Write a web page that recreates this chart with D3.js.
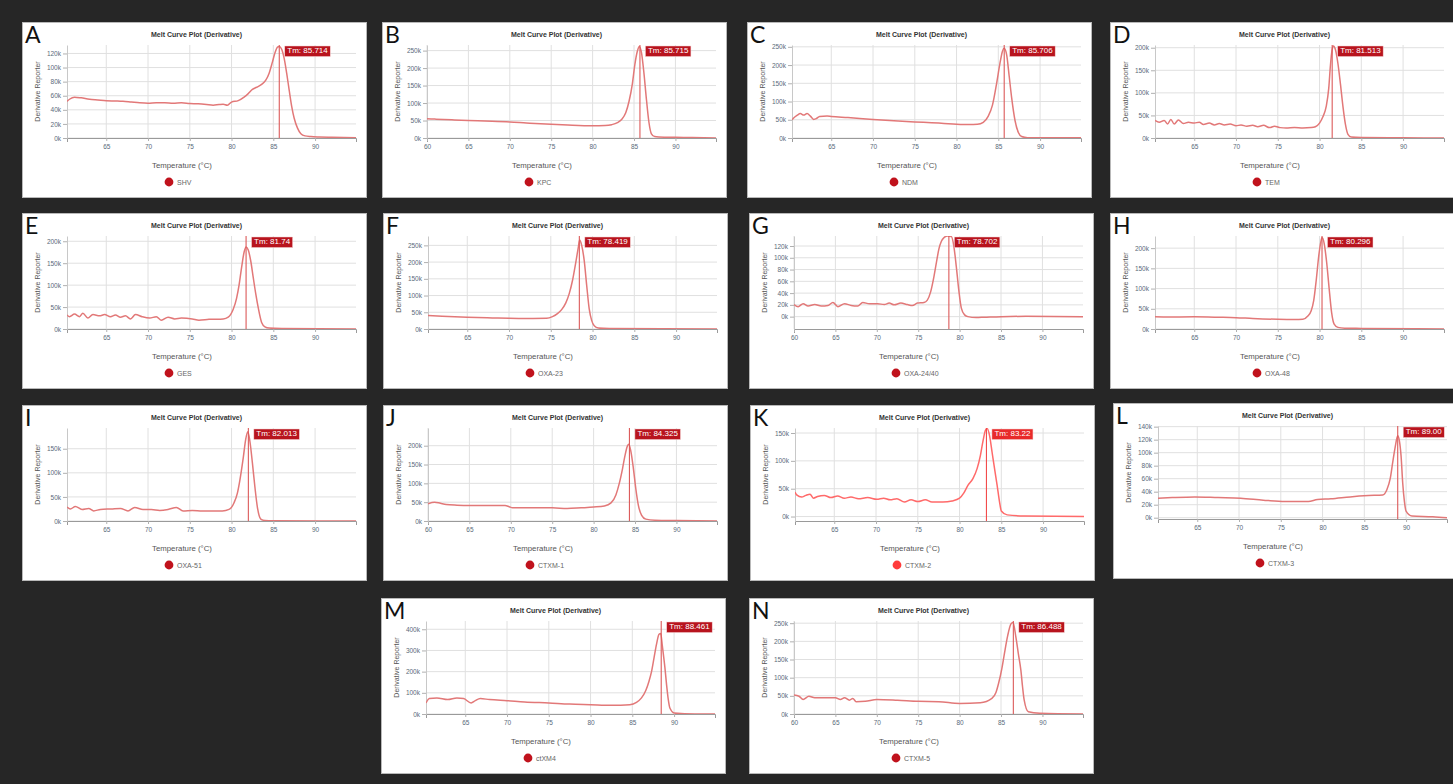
<!DOCTYPE html>
<html><head><meta charset="utf-8">
<script src="https://cdn.jsdelivr.net/npm/d3@7"></script>
<style>
html,body{margin:0;padding:0;background:#262626;overflow:hidden}
svg{display:block}
</style></head><body>
<svg id="c" width="1453" height="784"></svg>
<script>
// ---------------- data ----------------
const letters = ["A","B","C","D","E","F","G","H","I","J","K","L","M","N"];
const targets = ["SHV","KPC","NDM","TEM","GES","OXA-23","OXA-24/40","OXA-48","OXA-51","CTXM-1","CTXM-2","CTXM-3","ctXM4","CTXM-5"];
const tmValues = [85.714,85.715,85.706,81.513,81.74,78.419,78.702,80.296,82.013,84.325,83.22,89.00,88.461,86.488];
const tmTexts = ["Tm: 85.714","Tm: 85.715","Tm: 85.706","Tm: 81.513","Tm: 81.74","Tm: 78.419","Tm: 78.702","Tm: 80.296","Tm: 82.013","Tm: 84.325","Tm: 83.22","Tm: 89.00","Tm: 88.461","Tm: 86.488"];
// y axis domain (k units) and tick step
const yMins = [0,0,0,0,0,0,-21,0,0,0,-8,-2,0,0];
const yMaxs = [132,266,255,206,212,278,137,230,193,247,159,141,439,256];
const yStepsK = [20,50,50,50,50,50,20,50,50,50,50,20,100,50];
// start of temperature axis (°C)
const xStarts = [60.3,60,60.3,60.3,60.3,60.3,60,60.3,60.3,60,60.3,60.3,60.3,60];
const xEnd = 94.9;
const xTickValues = [60,65,70,75,80,85,90];

// derivative reporter curves: [temperature °C, value in k]
const curveA = [[60.3,52],[60.6,55],[61.2,58],[62,57],[63,55],[64,54],[65,53],[66,52.5],[67,52],[68,51],[69,50],[70,49.5],[71,50],[72,50],[73,49.5],[74,50],[75,49],[76,48.5],[77,47.5],[77.8,46.5],[78.5,47.5],[79,48],[79.5,46.5],[80,51],[80.8,53],[81.5,58],[82,63],[82.5,69],[83,72],[83.6,76],[84.1,82],[84.5,92],[84.9,108],[85.2,121],[85.5,129],[85.7,130],[86,126],[86.3,113],[86.6,92],[86.9,68],[87.2,45],[87.5,28],[87.9,14],[88.3,6],[88.8,3],[89.5,2],[90.5,1.4],[92,1],[94.9,0.5]];
const curveB = [[60,55],[61,54],[62,53],[63,52],[65,50],[67,48.5],[70,46],[72,43],[75,39],[77,37],[80,35],[81.5,35.5],[82.3,38],[83,44],[83.5,53],[84,72],[84.4,105],[84.8,155],[85.1,210],[85.4,248],[85.65,262],[85.9,244],[86.2,185],[86.5,110],[86.8,45],[87.1,12],[87.5,4],[88,3],[90,2],[92,1.5],[94.9,0]];
const curveC = [[60.3,50],[60.5,55],[60.9,62],[61.3,67],[61.7,63],[62.1,67],[62.5,60],[62.9,51],[63.2,53],[63.6,59],[64.5,60],[65,59],[67,56],[70,51],[72,48],[75,44],[77,42],[78.5,40],[80,38],[81.5,37],[82.5,37.5],[83.2,43],[83.8,60],[84.3,90],[84.8,150],[85.2,205],[85.5,238],[85.7,246],[86,228],[86.3,170],[86.6,110],[87,48],[87.4,15],[87.8,4],[88.5,1],[90,1],[94.9,0.5]];
const curveD = [[60.3,39],[60.8,35],[61.4,39],[61.8,31],[62.2,41],[62.6,31],[63.1,40],[63.7,32],[64.3,35],[65,33],[65.6,35],[66.1,30],[66.8,33],[67.4,29],[68,32],[68.6,29],[69.3,31],[70,27],[70.6,29],[71.3,26],[72,28],[72.6,25],[73.3,28],[74,23],[74.6,26],[75.3,23],[76,22],[77,23],[78,22],[79,23],[79.5,25],[80,33],[80.4,47],[80.8,70],[81.1,110],[81.3,160],[81.5,195],[81.65,204],[81.9,196],[82.2,165],[82.5,120],[82.8,70],[83.1,30],[83.4,8],[83.8,2],[85,1],[90,0.5],[94.9,0]];
const curveE = [[60.3,32],[60.6,28],[61.2,34],[61.8,28],[62.2,36],[62.8,25],[63.4,33],[64.2,30],[64.8,33],[65.5,28],[66.1,32],[66.7,27],[67.3,30],[67.9,23],[68.5,33],[69.3,28],[70.2,25],[71,28],[71.6,20],[72.4,27],[73.2,23],[74,25],[75.3,23],[76.1,20],[77.3,22],[79,23],[79.6,27],[80.2,45],[80.6,70],[80.9,100],[81.2,140],[81.5,175],[81.75,187],[82,180],[82.3,155],[82.6,117],[82.9,80],[83.2,48],[83.6,15],[84,5],[84.5,2],[86,1],[94.9,0]];
const curveF = [[60.3,40],[62,38],[65,35],[68,33],[70,32],[72,31.5],[74.5,32],[75.2,37],[75.8,46],[76.3,58],[76.8,78],[77.2,105],[77.6,145],[78,200],[78.3,245],[78.45,266],[78.7,250],[79,205],[79.3,130],[79.6,60],[79.9,25],[80.2,10],[80.7,3],[82,1.5],[94.9,0]];
const curveG = [[60,20.5],[60.5,17],[61.1,22],[61.7,18],[62.5,20.5],[63.3,18],[64.1,19],[64.7,24],[65.3,17],[66.1,22],[66.9,19],[67.7,18],[68.3,24],[69.1,22],[70.1,22],[70.9,20.5],[71.5,23],[72.1,20],[72.9,23],[73.7,20.5],[74.3,19],[74.9,23],[75.7,24],[76.1,28],[76.5,42],[76.9,68],[77.2,92],[77.5,115],[77.8,128],[78.1,134],[78.5,137],[79,136],[79.3,120],[79.6,85],[79.9,45],[80.2,15],[80.6,3],[81,0],[82,-1.5],[83,-1],[85,0],[88,0.5],[94.9,0]];
const curveH = [[60.3,30],[62,29.5],[65,30],[68,29],[70,28],[72,26],[75,24],[77,23.5],[78,24],[78.6,32],[79,45],[79.3,70],[79.6,120],[79.9,180],[80.15,215],[80.3,226],[80.55,212],[80.85,165],[81.15,100],[81.45,40],[81.75,12],[82.2,4],[83,2],[85,1.5],[94.9,0]];
const curveI = [[60.3,29],[60.7,25],[61.3,30],[62.1,24],[62.9,26],[63.5,21],[64.3,24],[65.6,25],[66.7,26],[67.6,21],[68.4,28],[69.4,24],[70.4,24],[71.4,22],[72.4,24],[73.4,28],[74.2,21],[75.3,22],[76.5,21],[77.7,21],[78.9,21],[79.7,24],[80.3,38],[80.7,58],[81,85],[81.4,131],[81.7,170],[81.95,185],[82.2,165],[82.5,120],[82.8,70],[83.1,28],[83.5,4],[84,1],[85,0.5],[94.9,0]];
const curveJ = [[60,46],[60.8,50],[61.5,47],[62.2,44],[63.5,42],[65,41],[67.5,41],[69.3,41],[69.8,38],[70.2,35],[72.4,35],[75,35],[76.8,33],[78.5,35],[80,37],[81.3,40],[82.1,48],[82.7,70],[83.1,100],[83.5,140],[83.8,175],[84.1,200],[84.25,204],[84.5,185],[84.8,140],[85.1,85],[85.4,42],[85.8,15],[86.3,5],[87.4,2],[90,1],[94.9,0]];
const curveK = [[60.3,44],[60.5,39],[61.1,35],[61.6,38],[62.1,40],[62.5,33],[63,36],[63.8,38],[64.6,34],[65.4,37],[66.2,33],[67,35],[67.9,32],[69,34],[70.1,31],[70.9,33],[71.7,30],[72.5,32],[73.4,26],[74.2,30],[75,27],[75.9,30],[76.7,26],[78,26],[79.1,28],[80,33],[80.5,42],[81,56],[81.6,68],[82.1,86],[82.5,110],[82.8,135],[83.1,155],[83.3,158],[83.6,145],[83.9,115],[84.2,85],[84.5,56],[84.8,25],[85,10],[85.7,3],[87.8,1],[94.9,0]];
const curveL = [[60.3,30],[62,31],[64.7,32],[67.5,31],[70.2,30],[72.9,27],[75.5,25],[78.3,25],[79.4,28],[81,29],[83.3,32],[85.5,34],[87.2,35],[87.7,43],[88.1,60],[88.4,85],[88.7,109],[89,126],[89.2,118],[89.4,95],[89.6,53],[89.8,25],[90,10],[90.7,2.5],[93.2,1.5],[94.9,0]];
const curveM = [[60.3,52],[60.7,73],[61.6,76],[62.9,68],[64,76],[64.8,73],[65.7,52],[66.2,63],[66.8,73],[67.9,68],[70,63],[72.1,57],[75,52],[77.5,47],[80,44],[82.5,41],[84.7,44],[85.5,55],[86.1,76],[86.6,110],[87,155],[87.3,200],[87.6,265],[87.9,330],[88.2,376],[88.4,380],[88.6,320],[88.9,220],[89.1,139],[89.3,70],[89.5,28],[90,5],[92.5,0],[94.9,0]];
const curveN = [[60,52],[60.6,49],[61.1,40],[61.8,49],[62.5,45],[63.9,45],[65,45],[65.6,40],[66.1,45],[66.7,38],[67.1,43],[67.5,34],[68.6,35],[70,40],[72.5,38],[75,35],[77.5,34],[80,29],[82.5,31],[83.9,43],[84.4,60],[84.7,84],[85.1,125],[85.4,165],[85.8,215],[86.2,248],[86.45,252],[86.8,211],[87.1,165],[87.4,120],[87.6,75],[87.8,38],[88.3,6],[89.7,2],[94.9,0]];
const curves = [curveA,curveB,curveC,curveD,curveE,curveF,curveG,curveH,curveI,curveJ,curveK,curveL,curveM,curveN];

// ---------------- layout ----------------
const layout = [[22,22],[382,22],[747,22],[1110,22],[22,213],[383,213],[749,213],[1110,213],[22,405],[383,405],[750,405],[1113,403],[381,598],[749,598]];
const W = 345, H = 176;
const PL = 45, PR = 334, PT = 23, PB = 116;
const FONT = "'Liberation Sans', Arial, sans-serif";

const svg = d3.select("#c");
svg.append("rect").attr("width",1453).attr("height",784).attr("fill","#262626");

letters.forEach((letter,i)=>{
  const [px,py] = layout[i];
  const bright = letter === "K";
  const lineColor = bright ? "#ff6a6a" : "#e27878";
  const accent = bright ? "#e82a2a" : "#b8141e";
  const g = svg.append("g").attr("transform",`translate(${px},${py})`);
  g.append("rect").attr("x",0.5).attr("y",0.5).attr("width",W-1).attr("height",H-1)
    .attr("fill","#ffffff").attr("stroke","#b9b9b9");

  const x = d3.scaleLinear().domain([xStarts[i],xEnd]).range([PL,PR]);
  const y = d3.scaleLinear().domain([yMins[i],yMaxs[i]]).range([PB,PT]);
  const xt = xTickValues.filter(v=>v>=xStarts[i]);
  const yt = d3.range(0,yMaxs[i]+0.001,yStepsK[i]);

  // grid
  g.append("g").selectAll("line").data(xt).join("line")
    .attr("x1",d=>x(d)).attr("x2",d=>x(d)).attr("y1",PT).attr("y2",PB)
    .attr("stroke","#e0e0e0").attr("stroke-width",1);
  g.append("g").selectAll("line").data(yt).join("line")
    .attr("x1",PL).attr("x2",PR).attr("y1",d=>y(d)).attr("y2",d=>y(d))
    .attr("stroke","#e0e0e0").attr("stroke-width",1);

  // axes
  const ax = g.append("g").attr("transform",`translate(0,${PB})`)
    .call(d3.axisBottom(x).tickValues(xt).tickSize(3).tickSizeOuter(4).tickPadding(3).tickFormat(d3.format("d")));
  ax.select(".domain").attr("stroke","#9a9a9a");
  ax.selectAll(".tick line").attr("stroke","#b0b0b0");
  ax.selectAll("text").attr("fill","#5a6a7a").attr("font-size","6.5px").attr("font-family",FONT);

  const ay = g.append("g").attr("transform",`translate(${PL},0)`)
    .call(d3.axisLeft(y).tickValues(yt).tickSize(4).tickSizeOuter(0).tickPadding(2).tickFormat(d=>d+"k"));
  ay.select(".domain").attr("stroke","#c8c8c8");
  ay.selectAll(".tick line").attr("stroke","#b0b0b0");
  ay.selectAll("text").attr("fill","#5a6a7a").attr("font-size","6.5px").attr("font-family",FONT);

  // curve
  const clipId = "clip"+i;
  g.append("clipPath").attr("id",clipId).append("rect")
    .attr("x",PL).attr("y",PT).attr("width",PR-PL).attr("height",PB-PT);
  const line = d3.line().x(d=>x(d[0])).y(d=>y(d[1])).curve(d3.curveMonotoneX);
  g.append("path").datum(curves[i]).attr("d",line).attr("clip-path",`url(#${clipId})`)
    .attr("fill","none").attr("stroke",lineColor).attr("stroke-width",1.5)
    .attr("stroke-linejoin","round");

  // Tm marker
  const tx = x(tmValues[i]);
  g.append("line").attr("x1",tx).attr("x2",tx).attr("y1",PT).attr("y2",PB)
    .attr("stroke",bright ? "#f24a4a" : "#dc5a5a").attr("stroke-width",1.1);
  const tmG = g.append("g");
  const tmText = tmG.append("text").attr("x",tx+8).attr("y",PT+8)
    .attr("font-size","8px").attr("font-family",FONT).attr("fill","#fff").text(tmTexts[i]);
  const tw = tmText.node().getComputedTextLength();
  tmG.insert("rect","text").attr("x",tx+5.5).attr("y",PT+1).attr("width",tw+5).attr("height",10.5)
    .attr("fill",accent).attr("stroke","#f4d0d0").attr("stroke-width",0.5);

  // letter
  g.append("text").attr("x",3).attr("y",21).attr("font-size","23px")
    .attr("font-family","Lato, 'Open Sans', sans-serif").attr("fill","#111").text(letter);
  // title
  g.append("text").attr("x",W/2+2).attr("y",14.5).attr("text-anchor","middle")
    .attr("font-size","7px").attr("font-weight","bold").attr("font-family",FONT)
    .attr("fill","#333").text("Melt Curve Plot (Derivative)");
  // y label
  g.append("text").attr("transform",`translate(18,${(PT+PB)/2}) rotate(-90)`)
    .attr("text-anchor","middle").attr("font-size","7px").attr("font-family",FONT)
    .attr("fill","#555").text("Derivative Reporter");
  // x label
  g.append("text").attr("x",160).attr("y",146).attr("text-anchor","middle")
    .attr("font-size","7.8px").attr("font-family",FONT).attr("fill","#555").text("Temperature (°C)");
  // legend
  g.append("circle").attr("cx",147).attr("cy",160).attr("r",4.4).attr("fill",bright ? "#ff3b3b" : "#c0121c");
  g.append("text").attr("x",155).attr("y",162.5).attr("font-size","7px").attr("font-family",FONT)
    .attr("fill","#666").text(targets[i]);
});
</script>
</body></html>
